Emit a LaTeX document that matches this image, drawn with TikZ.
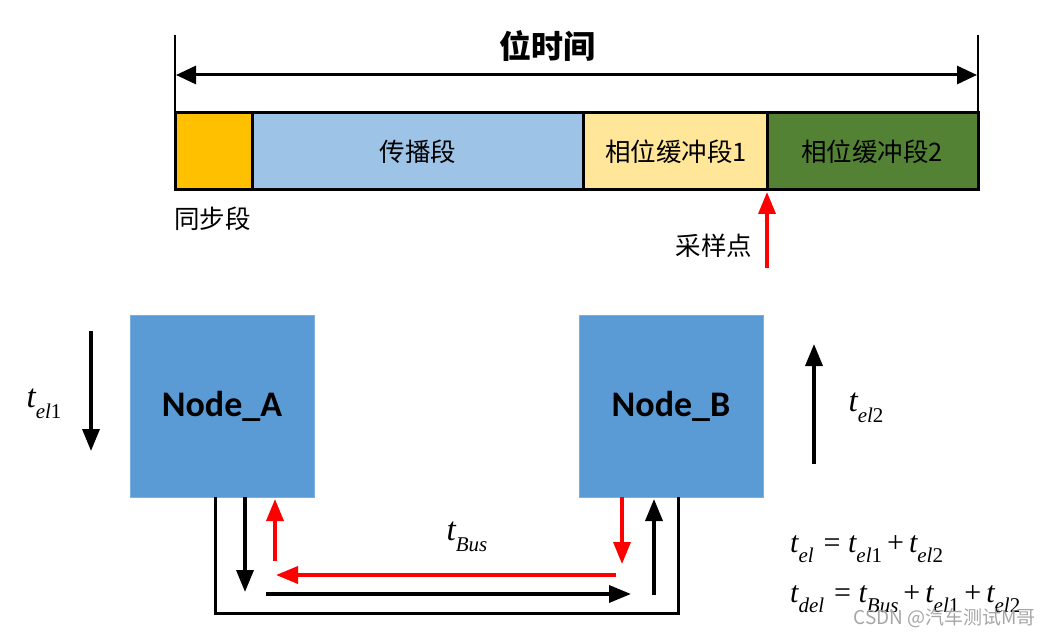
\documentclass[tikz,border=0pt]{standalone}
\usepackage{fontspec}
\setmainfont{Liberation Serif}
\newfontfamily\cjk{Noto Sans CJK SC}
\newfontfamily\calib{Carlito}
\usetikzlibrary{arrows.meta}
\definecolor{segorange}{HTML}{FFC000}
\definecolor{segblue}{HTML}{9DC3E6}
\definecolor{segyellow}{HTML}{FFE699}
\definecolor{seggreen}{HTML}{548235}
\definecolor{nodeblue}{HTML}{5B9BD5}
\definecolor{sigred}{HTML}{FF0000}
\newcommand\tvar[2]{{\itshape t}\raisebox{-0.32em}{\fontsize{21}{22}\selectfont\itshape #1\upshape #2}}
\begin{document}
\begin{tikzpicture}[x=1pt,y=-1pt,
  seg/.style={draw=black,line width=3pt},
  cjktext/.style={font=\cjk\fontsize{25.5}{28}\selectfont,inner sep=0pt},
  nodebox/.style={fill=nodeblue,draw=nodeblue!80!white,line width=0.5pt,minimum width=184pt,minimum height=182pt,inner sep=0pt,font=\calib\bfseries\fontsize{36}{40}\selectfont},
  blk/.style={line width=3.5pt,-{Triangle[length=22pt,width=17pt]}},
  redarr/.style={sigred,line width=3.5pt,-{Triangle[length=22pt,width=17pt]}},
  lbl/.style={inner sep=0pt,font=\fontsize{33}{36}\selectfont}
]
\useasboundingbox (0,0) rectangle (1051,636);
% bit time
\coordinate (tl) at (175,35);
\coordinate (tr) at (978,35);
\coordinate (bl) at (175,113);
\coordinate (br) at (978,113);
\draw[line width=2.5pt] (tl) -- (bl);
\draw[line width=2.5pt] (tr) -- (br);
\coordinate (al) at (176,75);
\coordinate (ar) at (977,75);
\draw[line width=3pt,{Triangle[length=20pt,width=18pt]}-{Triangle[length=20pt,width=18pt]}] (al) -- (ar);
\node[cjktext,font=\cjk\bfseries\fontsize{32}{36}\selectfont] (bittime) at (547,46) {位时间};
% segments
\draw[seg,fill=segorange] (175,113) rectangle (252,190);
\draw[seg,fill=segblue] (252,113) rectangle (583,190);
\draw[seg,fill=segyellow] (583,113) rectangle (767,190);
\draw[seg,fill=seggreen] (767,113) rectangle (978,190);
\node[cjktext] (prop) at (418,152) {传播段};
\node[cjktext] (ps1) at (676,152) {相位缓冲段1};
\node[cjktext] (ps2) at (872,152) {相位缓冲段2};
\node[cjktext,anchor=west] (sync) at (174,219) {同步段};
% sample point
\coordinate (spb) at (767,268);
\coordinate (spt) at (767,192);
\draw[redarr] (spb) -- (spt);
\node[cjktext] (sp) at (714,246) {采样点};
% nodes
\node[nodebox] (A) at (222,406) {Node\_A};
\node[nodebox] (B) at (671,406) {Node\_B};
% t_el1, t_el2
\coordinate (e1t) at (91,331);
\coordinate (e1b) at (91,451);
\draw[blk] (e1t) -- (e1b);
\node[lbl] (tel1) at (44,404) {\tvar{el}{1}};
\coordinate (e2b) at (814,464);
\coordinate (e2t) at (814,344);
\draw[blk] (e2b) -- (e2t);
\node[lbl] (tel2) at (866,408) {\tvar{el}{2}};
% bus loop
\coordinate (l1) at (215,497);
\coordinate (l2) at (215,613);
\coordinate (l3) at (678,613);
\coordinate (l4) at (678,497);
\draw[line width=3pt] (l1) -- (l2) -- (l3) -- (l4);
\coordinate (d1) at (245,497);
\coordinate (d2) at (245,592);
\draw[blk] (d1) -- (d2);
\coordinate (u1) at (275,561);
\coordinate (u2) at (275,499);
\draw[redarr] (u1) -- (u2);
\coordinate (r1) at (616,575);
\coordinate (r2) at (276,575);
\draw[redarr] (r1) -- (r2);
\coordinate (k1) at (266,594);
\coordinate (k2) at (631,594);
\draw[blk] (k1) -- (k2);
\coordinate (v1) at (622,497);
\coordinate (v2) at (622,564);
\draw[redarr] (v1) -- (v2);
\coordinate (w1) at (654,595);
\coordinate (w2) at (654,499);
\draw[blk] (w1) -- (w2);
\node[lbl] (tbus) at (467,537) {\tvar{Bus}{}};
% equations
\node[lbl,anchor=west,font=\fontsize{30}{34}\selectfont] (eq1) at (790,549) {\tvar{el}{}\,\,= \tvar{el}{1}\,+\,\tvar{el}{2}};
\node[lbl,anchor=west,font=\fontsize{30}{34}\selectfont] (eq2) at (790,599) {\tvar{del}{}\,\,= \tvar{Bus}{}\,+\,\tvar{el}{1}\,+\,\tvar{el}{2}};
% watermark
\node[inner sep=0pt,anchor=east,text=gray!70,font=\cjk\fontsize{19}{22}\selectfont] (wm) at (1036,618) {CSDN @汽车测试M哥};
\end{tikzpicture}
\end{document}
